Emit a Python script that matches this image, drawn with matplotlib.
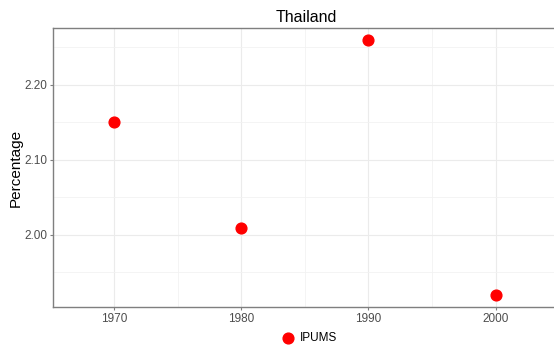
import matplotlib
matplotlib.use("Agg")
import matplotlib.pyplot as plt
from matplotlib.ticker import MultipleLocator, FormatStrFormatter

years = [1970, 1980, 1990, 2000]
pct = [2.15, 2.01, 2.26, 1.92]
series_name = "IPUMS"
title = "Thailand"

plt.rcParams["font.family"] = ["Liberation Sans", "DejaVu Sans"]

W, H = 554, 349
fig = plt.figure(figsize=(W / 100, H / 100), dpi=100)
ax = fig.add_axes([53 / W, 1 - 307 / H, (W - 53) / W, (307 - 28) / H])

ax.scatter(years, pct, s=60, color="#ff0000", zorder=3, label=series_name)

ax.set_xlim(1965.2, 2004.6)
ax.set_ylim(1.904, 2.276)
ax.xaxis.set_major_locator(MultipleLocator(10))
ax.xaxis.set_minor_locator(MultipleLocator(5))
ax.yaxis.set_major_locator(MultipleLocator(0.1))
ax.yaxis.set_minor_locator(MultipleLocator(0.05))
ax.yaxis.set_major_formatter(FormatStrFormatter("%.2f"))

ax.grid(which="major", color="#ebebeb", linewidth=0.8)
ax.grid(which="minor", color="#f2f2f2", linewidth=0.6)
ax.set_axisbelow(True)

for s in ["left", "bottom", "top"]:
    ax.spines[s].set_color("#7f7f7f")
    ax.spines[s].set_linewidth(1.0)
ax.spines["right"].set_visible(False)

ax.tick_params(which="major", length=2.5, color="#7f7f7f", labelsize=8.5, labelcolor="#4d4d4d", pad=1.5)
ax.tick_params(which="minor", length=0)

ax.set_ylabel("Percentage", fontsize=11)
ax.yaxis.set_label_coords(-(53 - 23) / (W - 53), 0.5)
fig.text(306 / W, 1 - 17 / H, title, ha="center", va="center", fontsize=11.5)

leg = fig.legend(loc="center", bbox_to_anchor=(307 / W, 1 - 338 / H), frameon=False,
                 fontsize=8.5, handletextpad=0.0, markerscale=1.0)

fig.savefig("out.png", dpi=100)
